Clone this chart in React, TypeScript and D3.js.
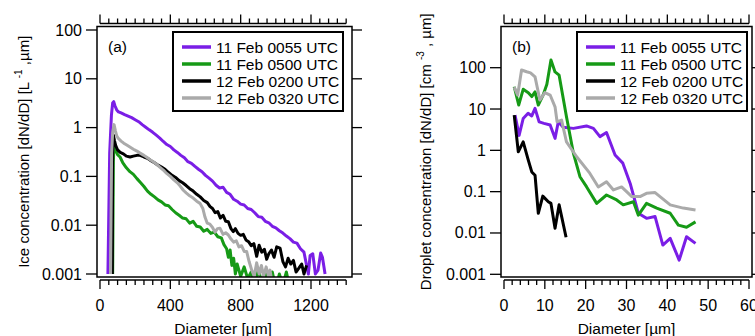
import * as d3 from 'd3';

type Pt = [number, number];

const SERIES_NAMES = ['11 Feb 0055 UTC', '11 Feb 0500 UTC', '12 Feb 0200 UTC', '12 Feb 0320 UTC'];
const SERIES_COLORS = ['#7a1ee6', '#169a16', '#000000', '#aaaaaa'];

const Y_TICKS = [0.001, 0.01, 0.1, 1, 10, 100];
const Y_TICK_LABELS = ['0.001', '0.01', '0.1', '1', '10', '100'];

const ICE_X_TICKS = [0, 400, 800, 1200];
const DROP_X_TICKS = [0, 10, 20, 30, 40, 50, 60];

// ice size distributions, [diameter um, dN/dD]
const ICE_0055: Pt[] = [
  [45, 0.001], [55, 0.3], [65, 1.8], [72, 3.2], [78, 3.4], [85, 2.8], [95, 2.3], [105, 2.1],
  [120, 2.0], [140, 1.85], [160, 1.72], [180, 1.6], [200, 1.45], [220, 1.32], [240, 1.15],
  [260, 1.02], [280, 0.9], [300, 0.8], [320, 0.7], [340, 0.61], [360, 0.52], [380, 0.45],
  [400, 0.41], [420, 0.35], [440, 0.31], [460, 0.27], [480, 0.24], [500, 0.2], [520, 0.185],
  [540, 0.16], [560, 0.14], [580, 0.125], [600, 0.105], [620, 0.092], [640, 0.08], [660, 0.066],
  [680, 0.058], [700, 0.06], [720, 0.047], [740, 0.043], [760, 0.034], [780, 0.031], [800, 0.027],
  [820, 0.026], [840, 0.022], [860, 0.021], [880, 0.018], [900, 0.015], [920, 0.0145],
  [940, 0.012], [960, 0.0112], [980, 0.0095], [1000, 0.0088], [1020, 0.0077], [1040, 0.0069],
  [1060, 0.006], [1080, 0.0053], [1100, 0.0045], [1120, 0.0043], [1140, 0.0033], [1160, 0.0028],
  [1175, 0.0015], [1185, 0.001], [1195, 0.0024], [1210, 0.0026], [1225, 0.001], [1240, 0.0012],
  [1255, 0.0027], [1265, 0.0022], [1280, 0.001],
];

const ICE_0500: Pt[] = [
  [72, 0.001], [76, 0.2], [80, 0.48], [88, 0.35], [100, 0.28], [114, 0.25], [130, 0.19],
  [150, 0.15], [170, 0.125], [190, 0.11], [210, 0.09], [230, 0.075], [250, 0.062], [270, 0.05],
  [290, 0.043], [310, 0.038], [330, 0.033], [350, 0.03], [370, 0.026], [390, 0.025], [410, 0.021],
  [430, 0.018], [450, 0.016], [470, 0.014], [490, 0.0135], [510, 0.011], [530, 0.012],
  [550, 0.0095], [570, 0.0092], [590, 0.0075], [610, 0.0082], [630, 0.0068], [650, 0.0072],
  [670, 0.0058], [690, 0.0055], [705, 0.004], [720, 0.0033], [730, 0.0022], [740, 0.0031],
  [750, 0.0015], [760, 0.0021], [770, 0.001], [780, 0.0016], [790, 0.0012], [800, 0.0009],
  [820, 0.0014], [840, 0.0008], [860, 0.0011], [880, 0.0006], [900, 0.0012], [920, 0.0007],
  [940, 0.0011], [960, 0.0006], [980, 0.0011], [1000, 0.0005], [1020, 0.001], [1040, 0.0006],
  [1060, 0.0011], [1080, 0.0005],
];

const ICE_0200: Pt[] = [
  [70, 0.001], [72, 0.3], [76, 0.7], [82, 0.55], [90, 0.42], [100, 0.35], [115, 0.31],
  [133, 0.29], [150, 0.26], [171, 0.25], [190, 0.26], [210, 0.27], [228, 0.27], [250, 0.25],
  [270, 0.235], [290, 0.21], [310, 0.19], [330, 0.17], [350, 0.155], [370, 0.14], [390, 0.12],
  [410, 0.105], [430, 0.095], [450, 0.082], [470, 0.074], [490, 0.065], [510, 0.056], [530, 0.05],
  [550, 0.043], [570, 0.038], [590, 0.032], [610, 0.029], [626, 0.024], [640, 0.022], [655, 0.018],
  [670, 0.019], [685, 0.014], [700, 0.016], [715, 0.012], [730, 0.0118], [745, 0.0085],
  [758, 0.0074], [770, 0.0085], [785, 0.0068], [800, 0.0062], [815, 0.0065], [830, 0.005],
  [845, 0.0046], [860, 0.0038], [875, 0.0042], [891, 0.0023], [905, 0.0039], [920, 0.0028],
  [935, 0.0032], [948, 0.002], [960, 0.0026], [975, 0.0031], [990, 0.0022], [1005, 0.0036],
  [1024, 0.0034], [1040, 0.0018], [1055, 0.0014], [1070, 0.0021], [1085, 0.0016], [1100, 0.0019],
  [1115, 0.0011], [1130, 0.0013], [1147, 0.0016], [1160, 0.001], [1175, 0.0015],
];

const ICE_0320: Pt[] = [
  [60, 0.001], [66, 0.3], [72, 0.8], [80, 1.15], [88, 0.85], [95, 0.68], [104, 0.6], [120, 0.53],
  [135, 0.48], [152, 0.44], [170, 0.4], [190, 0.36], [210, 0.33], [228, 0.3], [250, 0.27],
  [270, 0.24], [285, 0.22], [303, 0.2], [320, 0.18], [340, 0.155], [360, 0.135], [379, 0.115],
  [400, 0.1], [420, 0.085], [440, 0.074], [455, 0.064], [474, 0.052], [490, 0.046], [510, 0.04],
  [530, 0.036], [550, 0.031], [569, 0.028], [585, 0.022], [597, 0.0147], [610, 0.011],
  [625, 0.0105], [640, 0.009], [654, 0.0072], [668, 0.0085], [682, 0.0087], [700, 0.0065],
  [715, 0.007], [730, 0.0063], [745, 0.0052], [760, 0.0045], [775, 0.0048], [790, 0.0036],
  [805, 0.0038], [820, 0.0029], [834, 0.0029], [848, 0.0018], [863, 0.0012], [877, 0.0009],
  [891, 0.0017], [905, 0.001], [918, 0.0015], [930, 0.0009], [945, 0.0014], [958, 0.0009],
  [967, 0.0012], [975, 0.0008],
];

// droplet size distributions
const DROP_0055: Pt[] = [
  [2.7, 7.1], [3.7, 2.3], [4.7, 5.9], [5.9, 7.9], [6.8, 6.8], [7.6, 10.4], [8.6, 4.9], [9.8, 4.5],
  [11.3, 4.1], [12.5, 1.95], [13.3, 4.9], [14.5, 3.6], [17, 3.4], [20.2, 3.9], [21.9, 3.4],
  [23.5, 2.15], [25.1, 2.7], [27.2, 0.77], [29.1, 0.49], [30.9, 0.158], [32.9, 0.03],
  [34.9, 0.0226], [37, 0.025], [38.9, 0.0051], [40.7, 0.0074], [42.9, 0.0022], [44.7, 0.0081],
  [46.9, 0.0056],
];

const DROP_0500: Pt[] = [
  [2.5, 34.6], [3.6, 12.5], [4.7, 30], [5.95, 24.8], [6.8, 20], [7.6, 26], [8.4, 12.5], [9.6, 22],
  [10.5, 40], [11.5, 153], [12.5, 79], [13.5, 66], [15.3, 6.5], [17, 0.85], [18.6, 0.23],
  [20.2, 0.132], [22.7, 0.052], [25.1, 0.083], [27.6, 0.063], [29.2, 0.048], [31.7, 0.057],
  [32.9, 0.027], [34.9, 0.052], [37.4, 0.04], [40.7, 0.03], [42.7, 0.0155], [44.7, 0.0138],
  [46.9, 0.0186],
];

const DROP_0200: Pt[] = [
  [2.5, 7.1], [3.5, 0.92], [4.7, 1.6], [5.95, 0.58], [6.8, 0.3], [7.6, 0.25], [8.4, 0.03],
  [9.5, 0.078], [10.85, 0.057], [11.5, 0.052], [12.5, 0.013], [13.5, 0.048], [15.2, 0.0079],
];

const DROP_0320: Pt[] = [
  [2.5, 34], [3.35, 21.8], [4.3, 88], [5.55, 80], [6.5, 75], [7.6, 60], [8.8, 16.5], [10, 25],
  [11.3, 21.8], [12.5, 11.3], [13, 4.9], [14.1, 5.4], [15.3, 1.6], [17.8, 0.7], [21, 0.28],
  [23.1, 0.13], [25.1, 0.174], [26.8, 0.11], [28.8, 0.13], [31.3, 0.076], [33.3, 0.076],
  [34.9, 0.091], [37, 0.095], [40.7, 0.048], [43.9, 0.04], [46.9, 0.036],
];

const FONT = 'Liberation Sans, Arial, sans-serif';

type PanelProps = {
  id: string;
  tag: string;
  series: Pt[][];
  x: d3.ScaleLinear<number, number>;
  y: d3.ScaleLogarithmic<number, number>;
  frame: { left: number; right: number; top: number; bottom: number };
  xMajor: number[];
  xMinor: number[];
  legendX: number;
  yTitleX: number;
  yTitle: [string, string, string];
};

function Panel({ id, tag, series, x, y, frame, xMajor, xMinor, legendX, yTitleX, yTitle }: PanelProps) {
  const line = d3
    .line<Pt>()
    .x((d) => x(d[0]))
    .y((d) => y(d[1]));
  const xMax = xMinor[xMinor.length - 1];
  const axTop = frame.top - 3;
  const axBot = frame.bottom + 3;
  const midY = (frame.top + frame.bottom) / 2;

  return (
    <g fontFamily={FONT}>
      <defs>
        <clipPath id={id}>
          <rect x={frame.left} y={frame.top} width={frame.right - frame.left} height={frame.bottom - frame.top} />
        </clipPath>
      </defs>

      <g clipPath={`url(#${id})`} fill="none" strokeWidth={3} strokeLinejoin="round">
        {series.map((s, i) => (
          <path key={i} d={line(s) ?? ''} stroke={SERIES_COLORS[i]} />
        ))}
      </g>

      <rect x={frame.left} y={frame.top} width={frame.right - frame.left} height={frame.bottom - frame.top}
        fill="none" stroke="#000" strokeWidth={1.5} />

      {/* top and bottom axes */}
      <g stroke="#000" strokeWidth={1.3}>
        <line x1={x(0)} x2={x(xMax)} y1={axTop} y2={axTop} />
        <line x1={x(0)} x2={x(xMax)} y1={axBot} y2={axBot} />
        {xMinor.map((t) => {
          const len = xMajor.includes(t) ? 9 : 5;
          return (
            <g key={t}>
              <line x1={x(t)} x2={x(t)} y1={axTop} y2={axTop - len} />
              <line x1={x(t)} x2={x(t)} y1={axBot} y2={axBot + len} />
            </g>
          );
        })}
        {Y_TICKS.map((t) => (
          <g key={t}>
            <line x1={frame.left - 11} x2={frame.left} y1={y(t)} y2={y(t)} />
            <line x1={frame.right} x2={frame.right + 10} y1={y(t)} y2={y(t)} />
          </g>
        ))}
      </g>

      <g fill="#000">
        {xMajor.map((t) => (
          <text key={t} x={x(t)} y={311} textAnchor="middle" fontSize={16}>{t}</text>
        ))}
        {Y_TICKS.map((t, i) => (
          <text key={t} x={frame.left - 15} y={y(t) + 5.5} textAnchor="end" fontSize={16}>{Y_TICK_LABELS[i]}</text>
        ))}
        <text x={(x(0) + x(xMax)) / 2} y={334} textAnchor="middle" fontSize={15.5}>Diameter [µm]</text>
        <text transform={`translate(${yTitleX},${midY}) rotate(-90)`} textAnchor="middle" fontSize={15}>
          {yTitle[0]}
          <tspan fontSize={10} dy={-7}>{yTitle[1]}</tspan>
          <tspan dy={7}>{yTitle[2]}</tspan>
        </text>
        <text x={frame.left + 11} y={52} fontSize={15.5}>{tag}</text>
      </g>

      <g>
        <rect x={legendX} y={32} width={170} height={79} fill="#fff" stroke="#000" strokeWidth={2} />
        {SERIES_NAMES.map((name, i) => {
          const ly = 47 + i * 17;
          return (
            <g key={name}>
              <line x1={legendX + 9} x2={legendX + 38} y1={ly} y2={ly} stroke={SERIES_COLORS[i]} strokeWidth={3.5} />
              <text x={legendX + 43} y={ly + 5.5} fontSize={15.5}>{name}</text>
            </g>
          );
        })}
      </g>
    </g>
  );
}

export default function App() {
  const xIce = d3.scaleLinear().domain([0, 1200]).range([100, 311]);
  const yIce = d3.scaleLog().domain([0.001, 100]).range([274, 30]);
  const xDrop = d3.scaleLinear().domain([0, 60]).range([504, 749]);
  const yDrop = d3.scaleLog().domain([0.001, 100]).range([274.3, 67.7]);

  return (
    <svg width={755} height={336} style={{ position: 'absolute', left: 0, top: 0, background: '#fff' }}>
      <Panel
        id="clipA"
        tag="(a)"
        series={[ICE_0055, ICE_0500, ICE_0200, ICE_0320]}
        x={xIce}
        y={yIce}
        frame={{ left: 97, right: 352, top: 26.5, bottom: 277 }}
        xMajor={ICE_X_TICKS}
        xMinor={d3.range(0, 1401, 50)}
        legendX={173}
        yTitleX={29}
        yTitle={['Ice concentration [dN/dD] [L ', '-1', ' ,µm]']}
      />
      <Panel
        id="clipB"
        tag="(b)"
        series={[DROP_0055, DROP_0500, DROP_0200, DROP_0320]}
        x={xDrop}
        y={yDrop}
        frame={{ left: 501, right: 752, top: 26.5, bottom: 277 }}
        xMajor={DROP_X_TICKS}
        xMinor={d3.range(0, 61, 2)}
        legendX={577}
        yTitleX={431}
        yTitle={['Droplet concentration [dN/dD] [cm ', '-3', ' , µm]']}
      />
    </svg>
  );
}
